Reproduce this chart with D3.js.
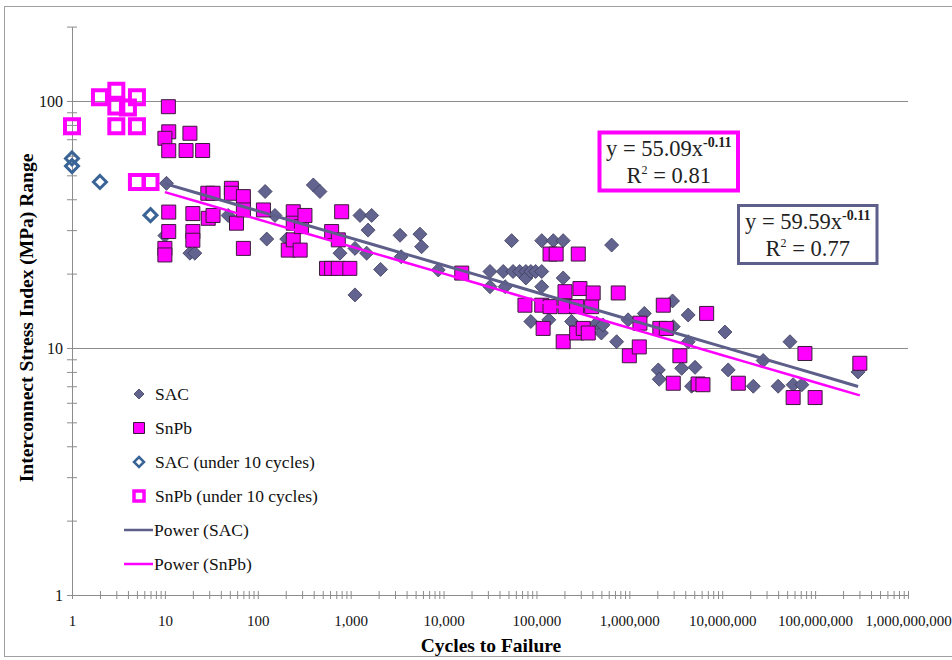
<!DOCTYPE html>
<html><head><meta charset="utf-8">
<script src="https://cdn.jsdelivr.net/npm/d3@7"></script>
<style>
html,body{margin:0;padding:0;background:#fff;}
svg{display:block;font-family:"Liberation Serif","Times New Roman",serif;}
</style></head><body>
<svg id="chart" width="952" height="660"></svg>
<script>
// Interconnect stress index range vs. cycles to failure, SAC and SnPb solders

// [cycles to failure, stress index range (MPa)]
const sacPoints = [
  [10.4,46.4],[10,28.5],[18.6,24.2],[21,24.2],[48,34.4],[120,43],[125,27.6],[153,34.4],[205,27.6],
  [396,45.7],[467,43],[767,24.2],[1113,25.3],[1113,16.4],[1260,34.4],[1486,24.2],[1540,30],
  [1683,34.4],[2100,20.8],[3400,28.6],[3500,23.4],[5570,28.9],[5800,25.7],[8770,20.7],
  [31600,20.4],[31600,17.7],[43900,20.4],[46000,17.7],[54000,27.2],[56000,20.4],[66000,20.4],
  [77000,20.4],[77000,19.2],[87000,20.4],[87000,12.8],[98000,20.4],[114000,20.4],[114000,27.2],
  [114000,17.7],[136000,13],[152000,27.2],[194000,27.2],[194000,19.2],[239000,12.8],[445000,12.6],
  [500000,11.5],[520000,12.4],[645000,26.1],[730000,10.6],[970000,13],[1450000,13.8],
  [2050000,8.15],[2100000,7.47],[2920000,15.5],[2970000,12.2],[3660000,8.27],[4300000,13.6],
  [4300000,10.6],[4680000,7.0],[5100000,8.35],[10700000,11.6],[11600000,8.15],[21600000,7.0],
  [27600000,8.9],[40000000,7.0],[53600000,10.6],[58000000,7.1],[72000000,7.1],[290000000,8.0]
];
const snpbPoints = [
  [10.9,94.8],[11,75],[10,70.6],[18.6,74],[11,62.9],[16.9,63],[25.5,63],[11,35.5],[11,29.6],
  [10,25.3],[10,23.8],[20,35],[20,29.6],[20,27.3],[29.3,33.5],[33,34.4],[29,42.3],[33,42.3],
  [52,44.3],[52,42.3],[70,41],[59,32],[70,36.2],[70,25.3],[115,36.2],[213,24.9],[241,35.6],
  [241,32],[241,27.4],[286,24.9],[295,31],[322,34.4],[550,21],[624,21],[624,29.6],[736,21],
  [736,27.4],[800,35.6],[980,21],[15700,20.1],[75200,14.9],[114000,14.9],[118000,12],[140000,24],
  [140000,14.7],[163000,24],[194000,10.6],[203000,16.9],[203000,14.7],[271000,14.7],[271000,11.5],
  [282000,24],[294000,17.4],[319000,12],[361000,11.5],[393000,14.7],[408000,16.7],[760000,16.7],
  [1000000,9.3],[1280000,10.1],[1300000,12.6],[2130000,12],[2320000,14.9],[2500000,12],
  [2970000,7.2],[3500000,9.3],[5500000,7.15],[6200000,7.1],[6800000,13.8],[14900000,7.2],
  [58000000,6.3],[77700000,9.5],[100000000,6.3],[303000000,8.67]
];
const sacUnder10 = [[1,58.5],[1,54.5],[2,47],[7,34.5]];
const snpbUnder10 = [[1,79],[2,103.5],[3,110],[3,95],[4,94],[5,103.5],[3,79],[5,79],[5,47],[7,47]];

// Power-law trendlines y = a·x^b
const fitSAC  = {a:59.59, b:-0.11, r2:0.77};
const fitSnPb = {a:55.09, b:-0.11, r2:0.81};

const xTickLabels = [1,10,100,1e3,1e4,1e5,1e6,1e7,1e8,1e9];
const yTickLabels = [1,10,100];
const legendLabels = ["SAC","SnPb","SAC (under 10 cycles)","SnPb (under 10 cycles)","Power (SAC)","Power (SnPb)"];
const xTitle = "Cycles to Failure";
const yTitle = "Interconnect Stress Index (MPa) Range";

const C = {
  sac:"#62638f", sacEdge:"#3b3b5c", snpb:"#ff00ff", snpbEdge:"#3a1a3a",
  sacHollow:"#3a6496", axis:"#8c8c8c", sacLine:"#5d5f8a"
};

const svg = d3.select("#chart");
const plot = {left:72, right:908, top:26.6, bottom:595};
const x = d3.scaleLog().domain([1,1e9]).range([plot.left, plot.right]);
const y = d3.scaleLog().domain([1,200]).range([plot.bottom, plot.top]);

// outer chart frame
svg.append("rect").attr("x",4.5).attr("y",6.5).attr("width",960).attr("height",650)
  .attr("fill","none").attr("stroke","#a0a0a0");

// horizontal major gridlines
svg.append("g").selectAll("line").data(yTickLabels.filter(v=>v>1)).join("line")
  .attr("x1",plot.left).attr("x2",plot.right)
  .attr("y1",d=>Math.round(y(d))+0.5).attr("y2",d=>Math.round(y(d))+0.5)
  .attr("stroke",C.axis);

// x axis (major + minor ticks, crossing the line)
const xTicks = [];
for (let d=0; d<9; d++) for (let k=1; k<10; k++) xTicks.push(k*10**d);
xTicks.push(1e9);
const gx = svg.append("g").attr("transform",`translate(0,${plot.bottom})`)
  .call(d3.axisBottom(x).tickValues(xTicks).tickSizeInner(4).tickSizeOuter(0)
    .tickFormat(v => xTickLabels.includes(v) ? d3.format(",")(v) : ""));
gx.select(".domain").attr("stroke",C.axis);
gx.selectAll(".tick line").attr("stroke",C.axis).attr("y1",-4).attr("y2",4);
gx.selectAll(".tick text").attr("y",20).attr("font-size",15)
  .attr("font-family","Liberation Serif").attr("fill","#111");

// y axis
const yTicks = [];
for (let d=0; d<2; d++) for (let k=1; k<10; k++) yTicks.push(k*10**d);
yTicks.push(100, 200);
const gy = svg.append("g").attr("transform",`translate(${plot.left},0)`)
  .call(d3.axisLeft(y).tickValues(yTicks).tickSizeInner(5).tickSizeOuter(0).tickPadding(4)
    .tickFormat(v => yTickLabels.includes(v) ? String(v) : ""));
gy.select(".domain").attr("stroke",C.axis);
gy.selectAll(".tick line").attr("stroke",C.axis).attr("x1",5).attr("x2",-5);
gy.selectAll(".tick text").attr("font-size",16)
  .attr("font-family","Liberation Serif").attr("fill","#111");

// axis titles
svg.append("text").attr("x",(plot.left+plot.right)/2 + 1).attr("y",652)
  .attr("text-anchor","middle").attr("font-size",19.5).attr("font-weight","bold").text(xTitle);
svg.append("text").attr("transform","translate(33,318) rotate(-90)")
  .attr("text-anchor","middle").attr("font-size",19.5).attr("font-weight","bold").text(yTitle);

const diamond = r => `M0,${-r}L${r},0L0,${r}L${-r},0Z`;
const square = s => `M${-s/2},${-s/2}h${s}v${s}h${-s}Z`;

// filled series
svg.append("g").selectAll("path").data(sacPoints).join("path")
  .attr("transform",d=>`translate(${x(d[0])},${y(d[1])})`)
  .attr("d",diamond(7)).attr("fill",C.sac).attr("stroke",C.sacEdge).attr("stroke-width",0.8);
svg.append("g").selectAll("path").data(snpbPoints).join("path")
  .attr("transform",d=>`translate(${x(d[0])},${y(d[1])})`)
  .attr("d",square(14)).attr("fill",C.snpb).attr("stroke",C.snpbEdge).attr("stroke-width",1);

// hollow series (under 10 cycles)
svg.append("g").selectAll("path").data(sacUnder10).join("path")
  .attr("transform",d=>`translate(${x(d[0])},${y(d[1])})`)
  .attr("d",diamond(6.5)).attr("fill","none").attr("stroke",C.sacHollow).attr("stroke-width",3);
svg.append("g").selectAll("path").data(snpbUnder10).join("path")
  .attr("transform",d=>`translate(${x(d[0])},${y(d[1])})`)
  .attr("d",square(14)).attr("fill","none").attr("stroke",C.snpb).attr("stroke-width",4);

// power trendlines over each series' cycle range
function trend(points, fit){
  const [x0,x1] = d3.extent(points, d=>d[0]);
  const xs = d3.range(0,21).map(i => x0*Math.pow(x1/x0, i/20));
  return d3.line().x(v=>x(v)).y(v=>y(fit.a*Math.pow(v,fit.b)))(xs);
}
svg.append("path").attr("d",trend(sacPoints,fitSAC)).attr("fill","none")
  .attr("stroke",C.sacLine).attr("stroke-width",3);
svg.append("path").attr("d",trend(snpbPoints,fitSnPb)).attr("fill","none")
  .attr("stroke",C.snpb).attr("stroke-width",2.5);

// equation labels
function eqBox(fit, box, color, sw){
  const g = svg.append("g");
  g.append("rect").attr("x",box.x).attr("y",box.y).attr("width",box.w).attr("height",box.h)
    .attr("fill","#fff").attr("stroke",color).attr("stroke-width",sw);
  const cx = box.x + box.w/2;
  const t1 = g.append("text").attr("x",cx).attr("y",box.y+23.5).attr("text-anchor","middle")
    .attr("font-size",22.5).attr("fill","#222");
  t1.append("tspan").text(`y = ${fit.a.toFixed(2)}x`);
  t1.append("tspan").attr("dy",-9).attr("font-size",14).attr("font-weight","bold").text(fit.b.toFixed(2));
  const t2 = g.append("text").attr("x",cx).attr("y",box.y+50.5).attr("text-anchor","middle")
    .attr("font-size",22.5).attr("fill","#222");
  t2.append("tspan").text("R");
  t2.append("tspan").attr("dy",-9).attr("font-size",12).text("2");
  t2.append("tspan").attr("dy",9).text(` = ${fit.r2.toFixed(2)}`);
}
eqBox(fitSnPb, {x:599.5, y:132.5, w:138.5, h:58}, C.snpb, 4);
eqBox(fitSAC,  {x:738.5, y:205.5, w:138.5, h:58}, C.sacLine, 3);

// legend
const lg = svg.append("g").attr("font-size",17.5).attr("fill","#111");
const rowY = i => 394 + i*34;
legendLabels.forEach((lab,i)=>{
  const yy = rowY(i);
  const tx = i<4 ? 155 : 154;
  lg.append("text").attr("x",tx).attr("y",yy+6).text(lab);
});
lg.append("path").attr("transform",`translate(139,${rowY(0)})`).attr("d",diamond(5))
  .attr("fill",C.sac).attr("stroke",C.sacEdge).attr("stroke-width",0.8);
lg.append("path").attr("transform",`translate(139,${rowY(1)})`).attr("d",square(11))
  .attr("fill",C.snpb).attr("stroke",C.snpbEdge).attr("stroke-width",1);
lg.append("path").attr("transform",`translate(139,${rowY(2)})`).attr("d",diamond(5))
  .attr("fill","none").attr("stroke",C.sacHollow).attr("stroke-width",2.5);
lg.append("path").attr("transform",`translate(139,${rowY(3)})`).attr("d",square(10))
  .attr("fill","none").attr("stroke",C.snpb).attr("stroke-width",3.5);
lg.append("line").attr("x1",124).attr("x2",153).attr("y1",rowY(4)).attr("y2",rowY(4))
  .attr("stroke",C.sacLine).attr("stroke-width",2.5);
lg.append("line").attr("x1",124).attr("x2",153).attr("y1",rowY(5)).attr("y2",rowY(5))
  .attr("stroke",C.snpb).attr("stroke-width",2.5);
</script>
</body></html>
